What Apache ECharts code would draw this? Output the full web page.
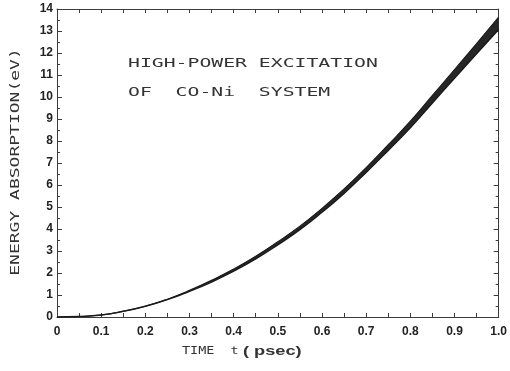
<!DOCTYPE html>
<html>
<head>
<meta charset="utf-8">
<script src="https://cdn.jsdelivr.net/npm/echarts@6/dist/echarts.min.js"></script>
<style>
  html, body { margin: 0; padding: 0; background: #fff; }
  #chart { width: 510px; height: 371px; }
</style>
</head>
<body>
<div id="chart"></div>
<script>
// time axis samples (psec)
const timePs = [0, 0.05, 0.1, 0.15, 0.2, 0.25, 0.3, 0.35, 0.4, 0.45, 0.5,
  0.55, 0.6, 0.65, 0.7, 0.75, 0.8, 0.85, 0.9, 0.95, 1.0];
// lower / upper edge of the oscillating absorption curve (eV)
const lowerEv = [0, 0.02, 0.09, 0.26, 0.49, 0.79, 1.17, 1.59, 2.08, 2.64, 3.28,
  3.97, 4.76, 5.62, 6.57, 7.57, 8.60, 9.73, 10.85, 11.97, 13.07];
const upperEv = [0, 0.02, 0.09, 0.26, 0.49, 0.81, 1.21, 1.67, 2.18, 2.76, 3.42,
  4.13, 4.94, 5.82, 6.79, 7.83, 8.90, 10.07, 11.25, 12.43, 13.63];

const xTickLabels = ['0', '0.1', '0.2', '0.3', '0.4', '0.5', '0.6', '0.7', '0.8', '0.9', '1.0'];
const yTickLabels = ['0', '1', '2', '3', '4', '5', '6', '7', '8', '9', '10', '11', '12', '13', '14'];

const ink = '#1a1a1a';
const axisInk = '#3c3c3c';
const plotFont = 'DejaVu Sans Mono';
const numFont = 'Liberation Sans';

const chart = echarts.init(document.getElementById('chart'));

const lowerData = timePs.map((t, i) => [t, lowerEv[i]]);
const upperData = timePs.map((t, i) => [t, upperEv[i]]);

const tickLabelStyle = {
  fontFamily: numFont,
  fontWeight: 'bold',
  fontSize: 12,
  color: '#222'
};

const makeX = (pos, labels) => ({
  type: 'value',
  position: pos,
  min: 0,
  max: 1,
  interval: 0.1,
  axisLine: { show: true, onZero: false, lineStyle: { color: axisInk, width: 1 } },
  axisTick: { show: true, inside: true, length: 4, lineStyle: { color: axisInk } },
  minorTick: { show: true, splitNumber: 2, length: 4, lineStyle: { color: axisInk } },
  splitLine: { show: false },
  axisLabel: labels ? Object.assign({
    margin: 9,
    formatter: v => xTickLabels[Math.round(v * 10)]
  }, tickLabelStyle) : { show: false }
});

const makeY = (pos, labels) => ({
  type: 'value',
  position: pos,
  min: 0,
  max: 14,
  interval: 1,
  axisLine: { show: true, onZero: false, lineStyle: { color: axisInk, width: 1 } },
  axisTick: { show: true, inside: true, length: 5, lineStyle: { color: axisInk } },
  minorTick: { show: true, splitNumber: 2, length: 3, lineStyle: { color: axisInk } },
  splitLine: { show: false },
  axisLabel: labels ? Object.assign({
    margin: 4,
    formatter: v => yTickLabels[Math.round(v)]
  }, tickLabelStyle) : { show: false }
});

// band between the lower and upper edge (the fast oscillation)
function renderBand(params, api) {
  const pts = [];
  for (let i = 0; i < timePs.length; i++) pts.push(api.coord([timePs[i], upperEv[i]]));
  for (let i = timePs.length - 1; i >= 0; i--) pts.push(api.coord([timePs[i], lowerEv[i]]));
  return {
    type: 'polygon',
    shape: { points: pts },
    style: { fill: '#262626', stroke: null }
  };
}

const options = {
  backgroundColor: '#ffffff',
  animation: false,
  grid: { left: 57, right: 9, top: 9, bottom: 54 },
  xAxis: [makeX('bottom', true), makeX('top', false)],
  yAxis: [makeY('left', true), makeY('right', false)],
  series: [
    {
      type: 'custom',
      name: 'band',
      xAxisIndex: 0,
      yAxisIndex: 0,
      data: [[0, 0]],
      renderItem: renderBand,
      silent: true
    },
    {
      type: 'line',
      name: 'lower',
      xAxisIndex: 0,
      yAxisIndex: 0,
      data: lowerData,
      smooth: true,
      showSymbol: false,
      lineStyle: { color: ink, width: 1.4 }
    },
    {
      type: 'line',
      name: 'upper',
      xAxisIndex: 0,
      yAxisIndex: 0,
      data: upperData,
      smooth: true,
      showSymbol: false,
      lineStyle: { color: ink, width: 1.1 }
    }
  ],
  graphic: [
    {
      type: 'text', x: 128, y: 64, scaleX: 1.52,
      style: { text: 'HIGH-POWER EXCITATION', fontFamily: plotFont, fontSize: 13,
        fill: '#333', align: 'left', verticalAlign: 'middle' }
    },
    {
      type: 'text', x: 128, y: 93, scaleX: 1.52,
      style: { text: 'OF  CO-Ni  SYSTEM', fontFamily: plotFont, fontSize: 13,
        fill: '#333', align: 'left', verticalAlign: 'middle' }
    },
    {
      type: 'text', x: 16, y: 162, rotation: Math.PI / 2, scaleX: 1.5,
      style: { text: 'ENERGY ABSORPTION(eV)', fontFamily: plotFont, fontSize: 12,
        fill: '#333', align: 'center', verticalAlign: 'middle' }
    },
    {
      type: 'text', x: 182, y: 351, scaleX: 1.22,
      style: { text: 'TIME  t', fontFamily: plotFont, fontSize: 11,
        fill: '#333', align: 'left', verticalAlign: 'middle' }
    },
    {
      type: 'text', x: 243, y: 351, scaleX: 1.4,
      style: { text: '( psec)', fontFamily: numFont, fontWeight: 'bold', fontSize: 13,
        fill: '#333', align: 'left', verticalAlign: 'middle' }
    }
  ]
};

chart.setOption(options);
</script>
</body>
</html>
